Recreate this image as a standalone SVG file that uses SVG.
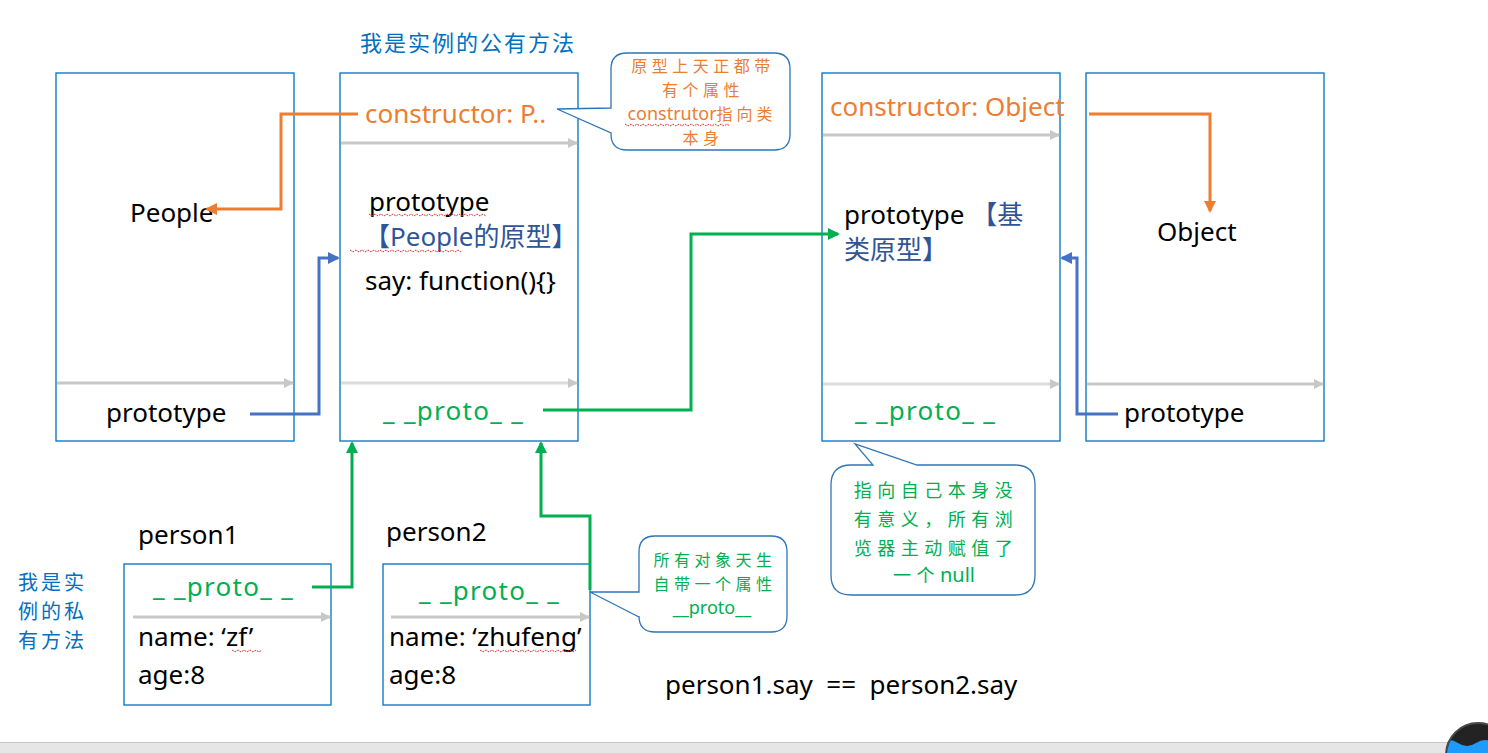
<svg xmlns="http://www.w3.org/2000/svg" width="1488" height="753" viewBox="0 0 1488 753">
<style>
.box{fill:#fff;stroke:#0070C0;stroke-width:1.3}
.call{fill:#fff;stroke:#2E75B6;stroke-width:1.3}
.t{font-family:"Noto Sans","Noto Sans CJK SC",sans-serif;font-size:26px;fill:#000}
.cjk{font-family:"Noto Sans CJK SC","Noto Sans",sans-serif}
.or{fill:#ED7D31}
.gr{fill:#00B050}
.bl{fill:#2F5597}
.lb{fill:#0070C0}
.pr{letter-spacing:1.3px}
.sep{stroke:#C8C8C8;stroke-width:3;fill:none}
.sep2{stroke:#DCDCDC;stroke-width:3;fill:none}
.sq{stroke:#E03030;stroke-width:1;fill:none;stroke-dasharray:2 1}
</style>
<defs>
<marker id="ag" markerWidth="10" markerHeight="10" refX="9" refY="5" orient="auto" markerUnits="userSpaceOnUse"><path d="M0,0 L10,5 L0,10 Z" fill="#C8C8C8"/></marker>
<marker id="ao" markerWidth="12" markerHeight="12" refX="10" refY="6" orient="auto" markerUnits="userSpaceOnUse"><path d="M0,0 L12,6 L0,12 Z" fill="#ED7D31"/></marker>
<marker id="ab" markerWidth="12" markerHeight="12" refX="10" refY="6" orient="auto" markerUnits="userSpaceOnUse"><path d="M0,0 L12,6 L0,12 Z" fill="#4472C4"/></marker>
<marker id="agr" markerWidth="12" markerHeight="12" refX="10" refY="6" orient="auto" markerUnits="userSpaceOnUse"><path d="M0,0 L12,6 L0,12 Z" fill="#00B050"/></marker>
<clipPath id="cc"><circle cx="1478" cy="755" r="31"/></clipPath>
</defs>
<rect width="1488" height="753" fill="#fff"/>

<text class="t cjk lb" x="360" y="51" style="font-size:22px;letter-spacing:2px">我是实例的公有方法</text>

<g id="people">
<rect class="box" x="56" y="73" width="238" height="368"/>
<line class="sep" x1="57" y1="383" x2="293" y2="383" marker-end="url(#ag)"/>
<text class="t" x="130" y="222">People</text>
<text class="t" x="106" y="422">prototype</text>
</g>

<g id="people-prototype">
<rect class="box" x="340" y="73" width="238" height="368"/>
<line class="sep" x1="341" y1="143" x2="577" y2="143" marker-end="url(#ag)"/>
<line class="sep2" x1="341" y1="383" x2="577" y2="383" marker-end="url(#ag)"/>
<text class="t or" x="365" y="123">constructor: P..</text>
<text class="t" x="369" y="211">prototype</text>
<path class="sq" d="M369,214 l3,2 l3,-2 l3,2 l3,-2 l3,2 l3,-2 l3,2 l3,-2 l3,2 l3,-2 l3,2 l3,-2 l3,2 l3,-2 l3,2 l3,-2 l3,2 l3,-2 l3,2 l3,-2 l3,2 l3,-2 l3,2 l3,-2 l3,2 l3,-2 l3,2 l3,-2 l3,2 l3,-2 l3,2 l3,-2 l3,2 l3,-2 l3,2 l3,-2 l3,2 l3,-2 l3,2"/>
<text class="t bl" x="364" y="246">【People<tspan class="cjk">的原型】</tspan></text>
<path class="sq" d="M350,250 l3,2 l3,-2 l3,2 l3,-2 l3,2 l3,-2 l3,2 l3,-2 l3,2 l3,-2 l3,2 l3,-2 l3,2 l3,-2 l3,2 l3,-2 l3,2 l3,-2 l3,2 l3,-2 l3,2 l3,-2 l3,2 l3,-2 l3,2 l3,-2 l3,2 l3,-2 l3,2 l3,-2 l3,2 l3,-2 l3,2 l3,-2 l3,2 l3,-2 l3,2"/>
<text class="t" x="365" y="290">say: function(){}</text>
<text class="t gr pr" x="383" y="420">_ _proto_ _</text>
</g>

<g id="object-prototype">
<rect class="box" x="822" y="73" width="238" height="368"/>
<line class="sep" x1="823" y1="135" x2="1059" y2="135" marker-end="url(#ag)"/>
<line class="sep2" x1="823" y1="384" x2="1059" y2="384" marker-end="url(#ag)"/>
<text class="t or" x="830" y="116">constructor: Object</text>
<text class="t" x="844" y="224">prototype <tspan class="bl cjk">【基</tspan></text>
<text class="t bl cjk" x="844" y="259">类原型】</text>
<text class="t gr pr" x="855" y="420">_ _proto_ _</text>
</g>

<g id="object">
<rect class="box" x="1086" y="73" width="238" height="368"/>
<line class="sep" x1="1087" y1="384" x2="1323" y2="384" marker-end="url(#ag)"/>
<text class="t" x="1157" y="241">Object</text>
<text class="t" x="1124" y="422">prototype</text>
</g>

<g id="person1">
<text class="t" x="138" y="544">person1</text>
<rect class="box" x="124" y="564" width="207" height="141"/>
<line class="sep" x1="133" y1="617" x2="330" y2="617" marker-end="url(#ag)"/>
<text class="t gr pr" x="153" y="596">_ _proto_ _</text>
<text class="t" x="138" y="646">name: ‘zf’</text>
<path class="sq" d="M232,650 l3,2 l3,-2 l3,2 l3,-2 l3,2 l3,-2 l3,2 l3,-2 l3,2 l3,-2"/>
<text class="t" x="138" y="684">age:8</text>
</g>

<g id="person2">
<text class="t" x="386" y="541">person2</text>
<rect class="box" x="383" y="564" width="207" height="141"/>
<line class="sep" x1="391" y1="617" x2="589" y2="617" marker-end="url(#ag)"/>
<text class="t gr pr" x="419" y="600">_ _proto_ _</text>
<text class="t" x="389" y="646">name: ‘zhufeng’</text>
<path class="sq" d="M480,650 l3,2 l3,-2 l3,2 l3,-2 l3,2 l3,-2 l3,2 l3,-2 l3,2 l3,-2 l3,2 l3,-2 l3,2 l3,-2 l3,2 l3,-2 l3,2 l3,-2 l3,2 l3,-2 l3,2 l3,-2 l3,2 l3,-2 l3,2 l3,-2 l3,2 l3,-2 l3,2 l3,-2 l3,2 l3,-2"/>
<text class="t" x="389" y="684">age:8</text>
</g>

<g id="private-note" class="t cjk lb" style="font-size:20px;letter-spacing:3px">
<text x="18" y="590">我是实</text>
<text x="18" y="619">例的私</text>
<text x="18" y="648">有方法</text>
</g>

<g id="equality">
<text class="t" x="665" y="694" xml:space="preserve">person1.say  ==  person2.say</text>
</g>

<g id="connectors" fill="none" stroke-width="3">
<path d="M358,114 H281 V209 H207" stroke="#ED7D31" marker-end="url(#ao)"/>
<path d="M250,414 H319 V258 H338" stroke="#4472C4" marker-end="url(#ab)"/>
<path d="M543,410 H691 V234 H838" stroke="#00B050" marker-end="url(#agr)"/>
<path d="M1089,114 H1210 V211" stroke="#ED7D31" marker-end="url(#ao)"/>
<path d="M1118,414 H1077 V258 H1062" stroke="#4472C4" marker-end="url(#ab)"/>
<path d="M312,587 H352 V443" stroke="#00B050" marker-end="url(#agr)"/>
<path d="M590,590 V516 H541 V443" stroke="#00B050" marker-end="url(#agr)"/>
</g>

<g id="callout-constructor">
<path class="call" d="M627,53 H774 Q790,53 790,69 V134 Q790,150 774,150 H627 Q611,150 611,134 V133 L557,109 L611,108 V69 Q611,53 627,53 Z"/>
<g class="t cjk or" style="font-size:16px;letter-spacing:4.5px" text-anchor="middle">
<text x="703" y="72">原型上天正都带</text>
<text x="703" y="96">有个属性</text>
<text x="702" y="120" style="letter-spacing:0"><tspan font-family="Noto Sans" style="font-size:18px">construtor</tspan><tspan style="letter-spacing:4px">指向类</tspan></text>
<text x="703" y="144">本身</text>
</g>
<path class="sq" d="M625,124 l3,2 l3,-2 l3,2 l3,-2 l3,2 l3,-2 l3,2 l3,-2 l3,2 l3,-2 l3,2 l3,-2 l3,2 l3,-2 l3,2 l3,-2 l3,2 l3,-2 l3,2 l3,-2 l3,2 l3,-2 l3,2 l3,-2 l3,2 l3,-2 l3,2 l3,-2 l3,2 l3,-2 l3,2 l3,-2 l3,2 l3,-2 l3,2"/>
</g>

<g id="callout-proto">
<path class="call" d="M655,536 H771 Q787,536 787,552 V616 Q787,632 771,632 H655 Q639,632 639,616 V617 L590,592 L639,592 V552 Q639,536 655,536 Z"/>
<g class="t cjk gr" style="font-size:16px;letter-spacing:4.5px" text-anchor="middle">
<text x="715" y="566">所有对象天生</text>
<text x="715" y="590">自带一个属性</text>
<text x="712" y="614" font-family="Noto Sans" style="font-size:18px;letter-spacing:0">__proto__</text>
</g>
</g>

<g id="callout-null">
<path class="call" d="M851,465 H873 L855,444 L917,465 H1015 Q1035,465 1035,485 V575 Q1035,595 1015,595 H851 Q831,595 831,575 V485 Q831,465 851,465 Z"/>
<g class="t cjk gr" style="font-size:18px;letter-spacing:5.5px" text-anchor="middle">
<text x="936" y="497">指向自己本身没</text>
<text x="936" y="526">有意义，所有浏</text>
<text x="936" y="555">览器主动赋值了</text>
<text x="934" y="582">一个<tspan font-family="Noto Sans" style="font-size:20px;letter-spacing:0">null</tspan></text>
</g>
</g>

<rect x="0" y="742" width="1488" height="11" fill="#E6E6E6"/>
<line x1="0" y1="742.5" x2="1488" y2="742.5" stroke="#C8C8C8" stroke-width="1"/>
<circle cx="1478" cy="755" r="32" fill="#232323" stroke="#4a4a4a" stroke-width="2"/>
<path clip-path="url(#cc)" d="M1440,743 q9,-6 18,0 q9,6 18,0 q9,-6 18,0 q9,6 18,0 V800 H1440 Z" fill="#1E9BFF"/>
</svg>
